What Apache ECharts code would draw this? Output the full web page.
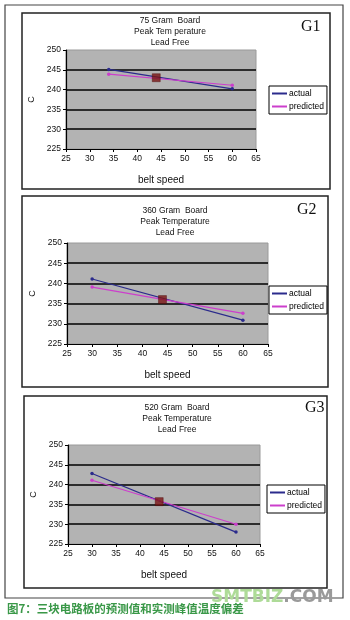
<!DOCTYPE html>
<html><head><meta charset="utf-8">
<script src="https://cdn.jsdelivr.net/npm/echarts@6/dist/echarts.min.js"></script>
<style>html,body{margin:0;padding:0;background:#fff}#c{width:350px;height:620px}</style>
</head><body><div id="c"></div>
<script>
// ---- data ----
const xTicks = [25, 65, 5];          // min, max, interval of belt speed axis
const yTicks = [225, 250, 5];        // min, max, interval of temperature axis
const seriesNames = ['actual', 'predicted'];
const chartTitles = [
  '75 Gram  Board\nPeak Tem perature\nLead Free',
  '360 Gram  Board\nPeak Temperature\nLead Free',
  '520 Gram  Board\nPeak Temperature\nLead Free'
];
const chartTags = ['G1', 'G2', 'G3'];
const g1Speed = [34, 60];
const g1Actual = [245.1, 240.2];
const g1Predicted = [243.9, 241.1];
const g1Marker = [44, 243];
const g2Speed = [30, 60];
const g2Actual = [241.1, 230.9];
const g2Predicted = [239.1, 232.6];
const g2Marker = [44, 236];
const g3Speed = [30, 60];
const g3Actual = [242.8, 228];
const g3Predicted = [241.1, 230];
const g3Marker = [44, 235.7];
const captionText = '图7：三块电路板的预测值和实测峰值温度偏差';

// ---- layout ----
const grids = [
  {left: 66, top: 50, width: 190, height: 99},
  {left: 67, top: 243, width: 201, height: 101},
  {left: 68, top: 445, width: 192, height: 99}
];
const frames = [[22, 13, 308, 176], [22, 196, 306, 191], [24, 396, 303, 192]];
const titlePos = [[170, 15], [175, 205], [177, 402]];
const tagPos = [[301, 19], [297, 202], [305, 400]];
const legendPos = [[269, 86], [269, 286], [267, 485]];
const cNameGap = [28, 28, 30];

const groups = [
  [g1Speed, g1Actual, g1Predicted, g1Marker],
  [g2Speed, g2Actual, g2Predicted, g2Marker],
  [g3Speed, g3Actual, g3Predicted, g3Marker]
];
const colors = ['#2b2b8c', '#cc3fcc'];
const font = 'Liberation Sans, Arial, sans-serif';

const option = {
  animation: false,
  backgroundColor: '#fff',
  grid: grids.map(g => Object.assign({show: true, backgroundColor: '#b3b3b3', borderColor: '#9a9a9a', borderWidth: 1}, g)),
  xAxis: grids.map((g, i) => ({
    type: 'value', gridIndex: i, min: xTicks[0], max: xTicks[1], interval: xTicks[2],
    name: 'belt speed', nameLocation: 'middle', nameGap: 26,
    nameTextStyle: {fontFamily: font, fontSize: 10, color: '#111'},
    axisLine: {show: true, onZero: false, lineStyle: {color: '#000', width: 1.2}},
    axisTick: {show: true, length: 3, inside: false, lineStyle: {color: '#000'}},
    axisLabel: {fontFamily: font, fontSize: 8.5, color: '#111', margin: 5},
    splitLine: {show: false}
  })),
  yAxis: grids.map((g, i) => ({
    type: 'value', gridIndex: i, min: yTicks[0], max: yTicks[1], interval: yTicks[2],
    name: 'C', nameLocation: 'middle', nameGap: cNameGap[i], nameRotate: 90,
    nameTextStyle: {fontFamily: font, fontSize: 9, color: '#111'},
    axisLine: {show: true, lineStyle: {color: '#000', width: 1.2}},
    axisTick: {show: true, length: 3, lineStyle: {color: '#000'}},
    axisLabel: {fontFamily: font, fontSize: 8.5, color: '#111', margin: 5},
    splitLine: {show: true, showMinLine: false, showMaxLine: false, lineStyle: {color: '#000', width: 1.5}}
  })),
  legend: legendPos.map(p => ({
    data: seriesNames, orient: 'vertical', left: p[0], top: p[1],
    backgroundColor: '#fff', borderColor: '#000', borderWidth: 1, padding: [3, 3],
    itemGap: 4, itemWidth: 15, itemHeight: 2, icon: 'rect',
    textStyle: {fontFamily: font, fontSize: 8.5, color: '#000', padding: [0, 0, 0, -3]},
    selectedMode: false
  })),
  series: [],
  graphic: []
};

groups.forEach((grp, i) => {
  const [sp, act, pre, mk] = grp;
  option.series.push({
    name: seriesNames[0], type: 'line', xAxisIndex: i, yAxisIndex: i,
    data: sp.map((x, k) => [x, act[k]]), color: colors[0],
    lineStyle: {width: 1.2}, symbol: 'circle', symbolSize: 3.5, showSymbol: true, z: 3
  });
  option.series.push({
    name: seriesNames[1], type: 'line', xAxisIndex: i, yAxisIndex: i,
    data: sp.map((x, k) => [x, pre[k]]), color: colors[1],
    lineStyle: {width: 1.2}, symbol: 'circle', symbolSize: 3.5, showSymbol: true, z: 3
  });
  option.series.push({
    name: 'point', type: 'scatter', xAxisIndex: i, yAxisIndex: i,
    data: [mk], symbol: 'rect', symbolSize: 8,
    itemStyle: {color: '#7a1414', borderColor: '#4a0808', borderWidth: 0.5}, z: 4
  });
});

// frames
option.graphic.push({type: 'rect', shape: {x: 5, y: 5, width: 338, height: 593},
  style: {fill: 'none', stroke: '#444', lineWidth: 1.2}, z: -1});
frames.forEach(f => option.graphic.push({type: 'rect', shape: {x: f[0], y: f[1], width: f[2], height: f[3]},
  style: {fill: 'none', stroke: '#222', lineWidth: 1.5}}));
chartTitles.forEach((t, i) => option.graphic.push({type: 'text', x: titlePos[i][0], y: titlePos[i][1],
  style: {text: t, fill: '#111', font: '8.5px ' + font, textAlign: 'center', textVerticalAlign: 'top', lineHeight: 11}}));
chartTags.forEach((t, i) => option.graphic.push({type: 'text', x: tagPos[i][0], y: tagPos[i][1],
  style: {text: t, fill: '#111', font: '16px "Liberation Serif", "Times New Roman", serif', textVerticalAlign: 'top'}}));
option.graphic.push({type: 'text', x: 7, y: 603,
  style: {text: captionText, fill: '#3a9848', font: 'bold 11.5px "Noto Sans CJK SC", sans-serif', textVerticalAlign: 'top'}});
option.graphic.push({type: 'text', x: 211, y: 589, z: 10,
  style: {text: '{a|SMTBIZ}{b|.COM}', textVerticalAlign: 'top',
    rich: {a: {fill: '#aedb98', font: 'bold 17px "DejaVu Sans", sans-serif'},
           b: {fill: '#9a9a9a', font: 'bold 17px "DejaVu Sans", sans-serif'}}}});

echarts.init(document.getElementById('c'), null, {renderer: 'canvas'}).setOption(option);
</script></body></html>
